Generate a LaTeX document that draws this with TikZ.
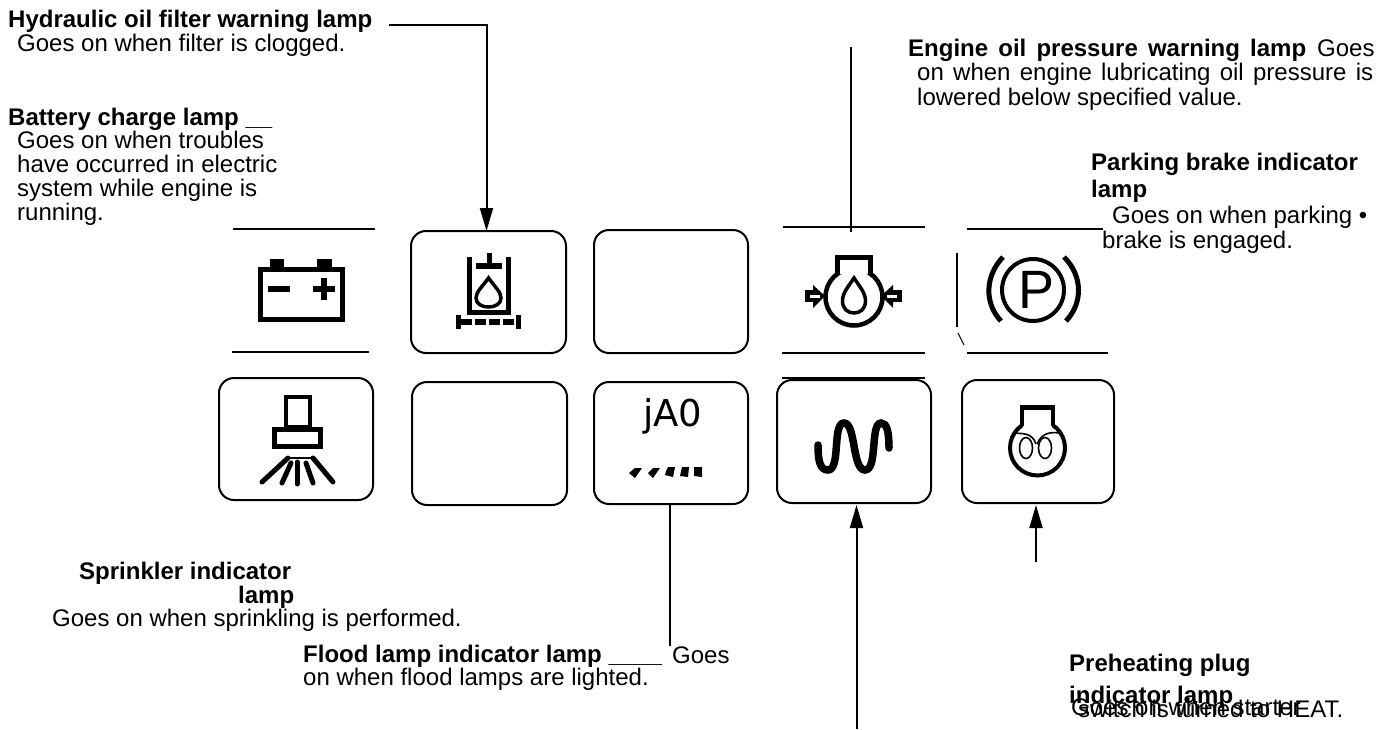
\documentclass[tikz,border=0pt]{standalone}
\usepackage{fontspec}
\setmainfont{Liberation Sans}
\newfontfamily\jaofont{DejaVu Sans}
\usetikzlibrary{arrows.meta}
\tikzset{
  x=1pt,y=-1pt,
  label text/.style={anchor=base west,inner sep=0pt,font=\fontsize{24}{26}\selectfont},
  title text/.style={anchor=base west,inner sep=0pt,font=\fontsize{24}{26}\selectfont\bfseries},
  lamp box/.style={draw,line width=2pt,rounded corners=15pt},
  rule line/.style={line width=2pt},
  leader/.style={line width=2pt},
  arrowed/.style={line width=2pt,-{Triangle[length=23pt,width=13pt]}}
}
\begin{document}
\begin{tikzpicture}
\useasboundingbox (0,0) rectangle (1385,729);
% Lamp boxes
\draw[lamp box] (219,378) rectangle (373,500);
\draw[lamp box] (411,231) rectangle (566,353);
\draw[lamp box] (412,382) rectangle (567,505);
\draw[lamp box] (594,230) rectangle (748,353);
\draw[lamp box] (594,382) rectangle (748,504);
\draw[lamp box] (777,380) rectangle (931,503);
\draw[lamp box] (962,380) rectangle (1114,503);
% Rules
\draw[rule line] (233,228.5) -- (375,228.5);
\draw[rule line] (232,352) -- (369,352);
\draw[rule line] (783,227) -- (925,227);
\draw[rule line] (782,353) -- (925,353);
\draw[rule line] (782,378) -- (925,378);
\draw[rule line] (967,229) -- (1103,229);
\draw[rule line] (967,353) -- (1108,353);
\draw[rule line] (957,253) -- (957,327);
\draw[line width=1pt] (958,333) -- (964,345);
% Connector anchors
\coordinate (hs) at (389,25);
\coordinate (hc) at (486.5,25);
\coordinate (he) at (486.5,231);
\coordinate (os) at (851,47);
\coordinate (oe) at (851,232);
\coordinate (fs) at (670,504);
\coordinate (fe) at (670,646);
\coordinate (ws) at (856.5,729);
\coordinate (we) at (856.5,505);
\coordinate (ps) at (1036,562);
\coordinate (pe) at (1036,505);
\draw[arrowed] (hs) -- (hc) -- (he);
\draw[leader] (os) -- (oe);
\draw[leader] (fs) -- (fe);
\draw[arrowed] (ws) -- (we);
\draw[arrowed] (ps) -- (pe);
% Battery icon
\draw[line width=5pt] (260,269.5) rectangle (342,319.5);
\fill (270,259) rectangle (284,267);
\fill (317,259) rectangle (332,267);
\fill (268,286) rectangle (290,292);
\fill (313,286) rectangle (335,292);
\fill (321,278) rectangle (327,300);
% Filter icon
\draw[line width=5pt] (469.5,257) -- (469.5,312.5) -- (508.5,312.5) -- (508.5,257);
\fill (476,263) rectangle (502,269);
\fill (487,253) rectangle (492,263);
\draw[line width=3.5pt] (488.5,278) .. controls (482,287) and (476,292) .. (476,298) .. controls (476,304) and (482,307) .. (488.5,307) .. controls (495,307) and (501,304) .. (501,298) .. controls (501,292) and (495,287) .. (488.5,278) -- cycle;
\fill (456,315) rectangle (461,329);
\fill (516,315) rectangle (521,329);
\draw[line width=5.5pt,dash pattern=on 11pt off 3pt] (461,322) -- (516,322);
% Sprinkler icon
\draw[line width=4pt] (286,397) rectangle (310,427);
\draw[line width=5pt] (274.5,429.5) rectangle (320.5,446.5);
\draw[line width=1.5pt] (290,458) -- (312,458);
\draw[line width=5pt,line cap=round] (288,458) -- (262,482);
\draw[line width=5pt,line cap=round] (291,463) -- (282,483);
\draw[line width=5pt,line cap=round] (297,462) -- (297,484);
\draw[line width=5pt,line cap=round] (306,463) -- (313,483);
\draw[line width=5pt,line cap=round] (313,458) -- (333,482);
% Engine oil icon
\draw[line width=4.5pt] (854,297) circle (28.5);
\fill[white] (840,262) rectangle (868,274);
\draw[line width=5pt] (837.5,275) -- (837.5,257.5) -- (870,257.5) -- (870,275);
\draw[line width=3.5pt] (854,278) .. controls (848,287) and (842.5,293) .. (842.5,301) .. controls (842.5,309) and (848,313) .. (854,313) .. controls (860,313) and (865.5,309) .. (865.5,301) .. controls (865.5,293) and (860,287) .. (854,278) -- cycle;
\fill (805,290) rectangle (814,302);
\fill (813,285) -- (825,296) -- (813,308) -- cycle;
\fill[white] (810,294.5) rectangle (820,297.5);
\fill (893,290) rectangle (902,302);
\fill (893,285) -- (881,296) -- (893,308) -- cycle;
\fill[white] (887,294.5) rectangle (897,297.5);
% Parking icon
\draw[line width=4pt] (1033,290) circle (31);
\draw[line width=5pt] (1003,257) .. controls (985,276) and (984,303) .. (1001,321);
\draw[line width=5pt] (1064,257) .. controls (1083,276) and (1083,303) .. (1066,321);
\node[anchor=base,inner sep=0pt,font=\fontsize{54}{54}\selectfont] (parkP) at (1036,308) {P};
% Flood lamp icon
\node[anchor=base west,inner sep=0pt,font=\fontsize{37}{37}\selectfont\jaofont] (jao) at (643,426) {jA0};
\fill (629,473) -- (635,468) -- (642,468) -- (635,478) -- cycle;
\fill (648,473) -- (653,468) -- (660,468) -- (653,478) -- cycle;
\fill (666,471) -- (668,467) -- (675,467) -- (673,477) -- (665,475) -- cycle;
\fill (682,467) -- (689,467) -- (688,477) -- (680,476) -- cycle;
\fill (694,467) -- (702,467) -- (702,477) -- (694,476) -- cycle;
% Wave icon
\draw[line width=7.5pt,line cap=round] (818,445) .. controls (818,461) and (820,470) .. (828,470) .. controls (841,470) and (832,423) .. (844,423) .. controls (856,423) and (852,470) .. (865,470) .. controls (878,470) and (870,423) .. (881,423) .. controls (887,423) and (889,432) .. (889,448);
% Preheat icon
\draw[line width=4pt] (1037.5,448) circle (27.5);
\fill[white] (1023,415) rectangle (1052,428);
\draw[line width=4.5pt] (1022,426) -- (1022,407.5) -- (1053,407.5) -- (1053,426);
\draw[line width=1.6pt] (1026,448) ellipse (6.5 and 10.5);
\draw[line width=1.6pt] (1045,448) ellipse (6.5 and 10.5);
\draw[line width=1.6pt] (1015,433) .. controls (1022,434) and (1032,432) .. (1036,444);
\draw[line width=1.6pt] (1059,433) .. controls (1052,432) and (1042,432) .. (1037,444);
% Text
\node[title text] (t1) at (8,27) {Hydraulic oil filter warning lamp};
\node[label text] (t1a) at (17,51) {Goes on when filter is clogged.};
\node[title text] (t2) at (8,125) {Battery charge lamp \_\_};
\node[label text] (t2a) at (17,148) {Goes on when troubles};
\node[label text] (t2b) at (17,172) {have occurred in electric};
\node[label text] (t2c) at (17,196) {system while engine is};
\node[label text] (t2d) at (17,220) {running.};
\node[title text] (t3) at (908,56) {\makebox[398pt][s]{Engine oil pressure warning lamp}};
\node[label text] (t3z) at (1317,56) {Goes};
\node[label text] (t3a) at (917,80) {\makebox[456pt][s]{on when engine lubricating oil pressure is}};
\node[label text] (t3b) at (917,105) {lowered below specified value.};
\node[title text] (t4) at (1091,170) {Parking brake indicator};
\node[title text] (t4a) at (1091,197) {lamp};
\node[label text] (t4b) at (1112,223) {Goes on when parking \textbullet};
\node[label text] (t4c) at (1102,248) {brake is engaged.};
\node[title text] (t5) at (79,579) {Sprinkler indicator};
\node[title text] (t5a) at (238,603) {lamp};
\node[label text] (t5b) at (52,626) {Goes on when sprinkling is performed.};
\node[title text] (t6) at (303,662) {Flood lamp indicator lamp \_\_\_\_};
\node[label text] (t6z) at (672,663) {Goes};
\node[label text] (t6a) at (303,685) {on when flood lamps are lighted.};
\node[title text] (t7) at (1069,671) {Preheating plug};
\node[title text] (t7a) at (1069,703) {indicator lamp};
\node[label text] (t7b) at (1071,715) {Goes on when starter};
\node[label text] (t7c) at (1078,717) {switch is turned to HEAT.};
\end{tikzpicture}
\end{document}
